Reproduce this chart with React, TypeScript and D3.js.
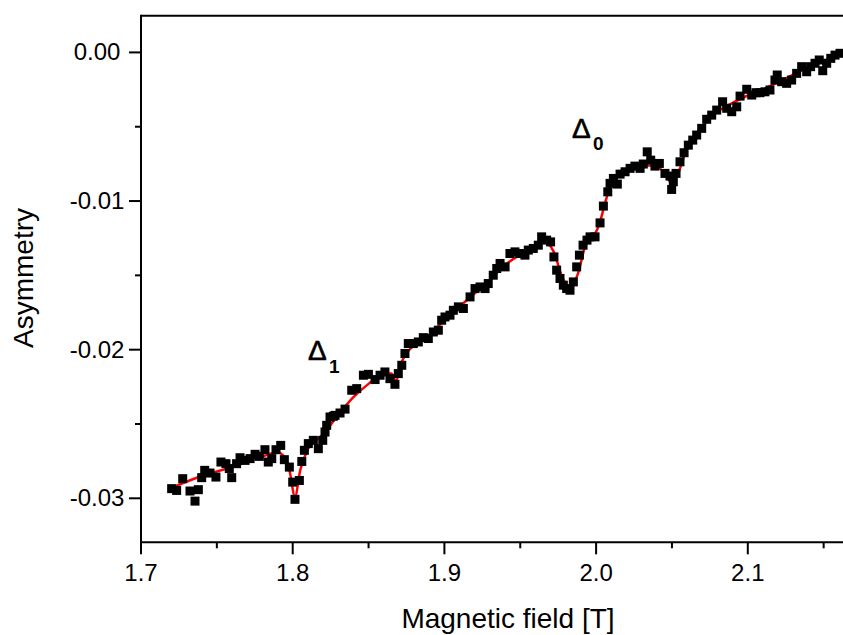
import React from "react";
import * as d3 from "d3";

const fieldT = [
  1.7202, 1.7235, 1.7275, 1.7323, 1.7356, 1.7378, 1.74, 1.742, 1.7455, 1.7494,
  1.7527, 1.756, 1.7582, 1.7598, 1.763, 1.7653, 1.7686, 1.7719, 1.7752, 1.778,
  1.7817, 1.7839, 1.7862, 1.789, 1.7921, 1.7945, 1.7978, 1.8, 1.8015, 1.8044,
  1.806, 1.8077, 1.8103, 1.8136, 1.8169, 1.8198, 1.8213, 1.8224, 1.8246, 1.8268,
  1.8279, 1.8312, 1.8345, 1.8389, 1.8422, 1.8466, 1.8499, 1.8543, 1.8576, 1.8608,
  1.8641, 1.8674, 1.8696, 1.8719, 1.874, 1.8762, 1.8795, 1.8828, 1.8861, 1.8894,
  1.8927, 1.896, 1.8982, 1.9004, 1.9037, 1.9059, 1.9092, 1.9125, 1.9169, 1.9202,
  1.9235, 1.9268, 1.9289, 1.9322, 1.9345, 1.9367, 1.94, 1.9432, 1.9465, 1.9498,
  1.9531, 1.9553, 1.9586, 1.9619, 1.9641, 1.9674, 1.97, 1.9722, 1.974, 1.9762,
  1.9784, 1.9806, 1.9828, 1.985, 1.9872, 1.989, 1.9914, 1.994, 1.996, 1.9993,
  2.0026, 2.0048, 2.0077, 2.0092, 2.0114, 2.014, 2.0158, 2.0191, 2.0224, 2.0256,
  2.029, 2.0311, 2.0337, 2.036, 2.0388, 2.0417, 2.0454, 2.0487, 2.0498, 2.0509,
  2.0527, 2.0553, 2.058, 2.0608, 2.0637, 2.0663, 2.0696, 2.0729, 2.0762, 2.0795,
  2.0834, 2.0861, 2.0894, 2.0927, 2.0949, 2.0993, 2.1026, 2.1054, 2.108, 2.1113,
  2.1146, 2.1179, 2.1194, 2.1223, 2.1256, 2.1289, 2.1322, 2.1355, 2.1388, 2.1414,
  2.1443, 2.1471, 2.1494, 2.152, 2.1547, 2.1575, 2.1608,
];

const asymmetry = [
  -0.02935, -0.02947, -0.02868, -0.02951, -0.03019, -0.02942, -0.02861, -0.02812, -0.0283, -0.02857,
  -0.02756, -0.02767, -0.028, -0.02861, -0.02767, -0.02727, -0.02745, -0.02733, -0.02704, -0.02718,
  -0.02673, -0.02756, -0.02733, -0.02673, -0.02644, -0.0274, -0.0279, -0.02891, -0.03007, -0.0288,
  -0.02752, -0.02677, -0.02632, -0.0261, -0.02666, -0.0261, -0.02554, -0.02509, -0.02453, -0.02448,
  -0.02442, -0.02426, -0.024, -0.02273, -0.02262, -0.02172, -0.02166, -0.02201, -0.02172, -0.0215,
  -0.02195, -0.02233, -0.02161, -0.02105, -0.02026, -0.01959, -0.01959, -0.01948, -0.01919, -0.01925,
  -0.01881, -0.01869, -0.01802, -0.0178, -0.01768, -0.01735, -0.01712, -0.01723, -0.01645, -0.01589,
  -0.01578, -0.01589, -0.01555, -0.01499, -0.01454, -0.0142, -0.01443, -0.01353, -0.01342, -0.01353,
  -0.01364, -0.0133, -0.01319, -0.01297, -0.01241, -0.01263, -0.01275, -0.01376, -0.01465, -0.01521,
  -0.01566, -0.01589, -0.016, -0.01544, -0.01443, -0.01364, -0.01297, -0.01263, -0.01241, -0.01241,
  -0.01147, -0.01034, -0.00938, -0.00881, -0.00848, -0.00886, -0.00819, -0.00803, -0.0078, -0.00765,
  -0.0078, -0.00751, -0.00669, -0.00725, -0.00765, -0.00747, -0.00814, -0.00832, -0.00922, -0.0087,
  -0.00814, -0.00736, -0.00675, -0.00624, -0.0059, -0.00556, -0.00511, -0.0045, -0.00422, -0.00388,
  -0.00332, -0.00376, -0.00399, -0.00366, -0.00294, -0.00248, -0.00287, -0.00271, -0.00271, -0.00265,
  -0.00253, -0.00186, -0.00152, -0.00197, -0.00208, -0.00186, -0.00141, -0.00096, -0.0013, -0.00096,
  -0.00073, -0.00051, -0.00123, -0.00073, -0.0004, -0.00018, -0.00006,
];

const fitT = [
  1.72, 1.74, 1.76, 1.78, 1.79, 1.795, 1.798, 1.8015, 1.805, 1.81,
  1.82, 1.83, 1.84, 1.85, 1.86, 1.865, 1.868, 1.872, 1.88, 1.89,
  1.9, 1.91, 1.92, 1.93, 1.94, 1.95, 1.96, 1.966, 1.972, 1.978,
  1.983, 1.988, 1.993, 1.998, 2.002, 2.006, 2.01, 2.015, 2.02, 2.03,
  2.04, 2.045, 2.05, 2.053, 2.06, 2.07, 2.08, 2.09, 2.1, 2.11,
  2.12, 2.13, 2.14, 2.15, 2.16,
];

const fitA = [
  -0.0293, -0.0285, -0.0279, -0.0272, -0.0269, -0.0273, -0.0282, -0.0299, -0.0281, -0.0267,
  -0.0257, -0.0244, -0.0232, -0.0223, -0.0216, -0.0216, -0.0221, -0.0208, -0.0197, -0.019,
  -0.018, -0.0171, -0.0162, -0.0153, -0.0143, -0.0136, -0.013, -0.0127, -0.0134, -0.0152,
  -0.0158, -0.0149, -0.013, -0.0124, -0.0116, -0.0101, -0.0088, -0.0082, -0.0079, -0.0076,
  -0.0077, -0.0081, -0.0088, -0.0084, -0.0064, -0.005, -0.004, -0.0034, -0.0029, -0.0025,
  -0.002, -0.0015, -0.001, -0.0006, -0.0001,
];

const xMajor = [1.7, 1.8, 1.9, 2.0, 2.1];
const xLabels = ["1.7", "1.8", "1.9", "2.0", "2.1"];
const xMinor = [1.75, 1.85, 1.95, 2.05, 2.15];
const yMajor = [0, -0.01, -0.02, -0.03];
const yMinor = [-0.005, -0.015, -0.025];
const yLabels = ["0.00", "-0.01", "-0.02", "-0.03"];

const W = 843;
const H = 635;
const FONT = "'Liberation Sans', Arial, Helvetica, sans-serif";

export default function App() {
  const x = d3.scaleLinear().domain([1.7, 2.2]).range([141, 899.5]);
  const y = d3.scaleLinear().domain([-0.03296, 0.00247]).range([542.3, 15.7]);
  const top = y.range()[1];
  const bottom = y.range()[0];
  const left = x.range()[0];
  const right = x.range()[1];

  const fitPts: [number, number][] = fitT.map((t, i) => [t, fitA[i]]);
  const line = d3
    .line<[number, number]>()
    .x((d) => x(d[0]))
    .y((d) => y(d[1]))
    .curve(d3.curveMonotoneX);

  const ms = 9;

  return (
    <svg
      width={W}
      height={H}
      style={{ position: "absolute", left: 0, top: 0, background: "#fff" }}
      fontFamily={FONT}
    >
      <rect x={0} y={0} width={W} height={H} fill="#fff" />
      <path d={line(fitPts) || ""} fill="none" stroke="#ff0000" strokeWidth={2.5} />
      {fieldT.map((t, i) => (
        <rect
          key={i}
          x={x(t) - ms / 2}
          y={y(asymmetry[i]) - ms / 2}
          width={ms}
          height={ms}
          fill="#000"
        />
      ))}
      <line x1={left} x2={right} y1={top} y2={top} stroke="#000" strokeWidth={2} />
      <line x1={left} x2={right} y1={bottom} y2={bottom} stroke="#000" strokeWidth={2} />
      <line x1={left} x2={left} y1={top - 1} y2={bottom + 1} stroke="#000" strokeWidth={2} />
      {xMajor.map((v, i) => (
        <g key={"xM" + v}>
          <line x1={x(v)} x2={x(v)} y1={bottom} y2={bottom + 12} stroke="#000" strokeWidth={2} />
          <text x={x(v)} y={581} fontSize={24} textAnchor="middle" fill="#000" fontFamily={FONT}>
            {xLabels[i]}
          </text>
        </g>
      ))}
      {xMinor.map((v) => (
        <line key={"xm" + v} x1={x(v)} x2={x(v)} y1={bottom} y2={bottom + 6} stroke="#000" strokeWidth={2} />
      ))}
      {yMajor.map((v, i) => (
        <g key={"yM" + v}>
          <line x1={left - 12} x2={left} y1={y(v)} y2={y(v)} stroke="#000" strokeWidth={2} />
          <text x={97} y={y(v) + 8} fontSize={24} textAnchor="middle" fill="#000" fontFamily={FONT}>
            {yLabels[i]}
          </text>
        </g>
      ))}
      {yMinor.map((v) => (
        <line key={"ym" + v} x1={left - 6} x2={left} y1={y(v)} y2={y(v)} stroke="#000" strokeWidth={2} />
      ))}
      <text x={508} y={628} fontSize={28} textAnchor="middle" fill="#000" fontFamily={FONT}>
        Magnetic field [T]
      </text>
      <text
        transform={`translate(33,278) rotate(-90)`}
        fontSize={28}
        textAnchor="middle"
        fill="#000"
        fontFamily={FONT}
      >
        Asymmetry
      </text>
      <text x={308} y={360} fontSize={28} fill="#000" fontFamily={FONT} stroke="#000" strokeWidth={0.6}>
        Δ
      </text>
      <text x={329} y={373} fontSize={19} fontWeight="bold" fill="#000" fontFamily={FONT}>
        1
      </text>
      <text x={572} y={138} fontSize={28} fill="#000" fontFamily={FONT} stroke="#000" strokeWidth={0.6}>
        Δ
      </text>
      <text x={593} y={150} fontSize={19} fontWeight="bold" fill="#000" fontFamily={FONT}>
        0
      </text>
    </svg>
  );
}
